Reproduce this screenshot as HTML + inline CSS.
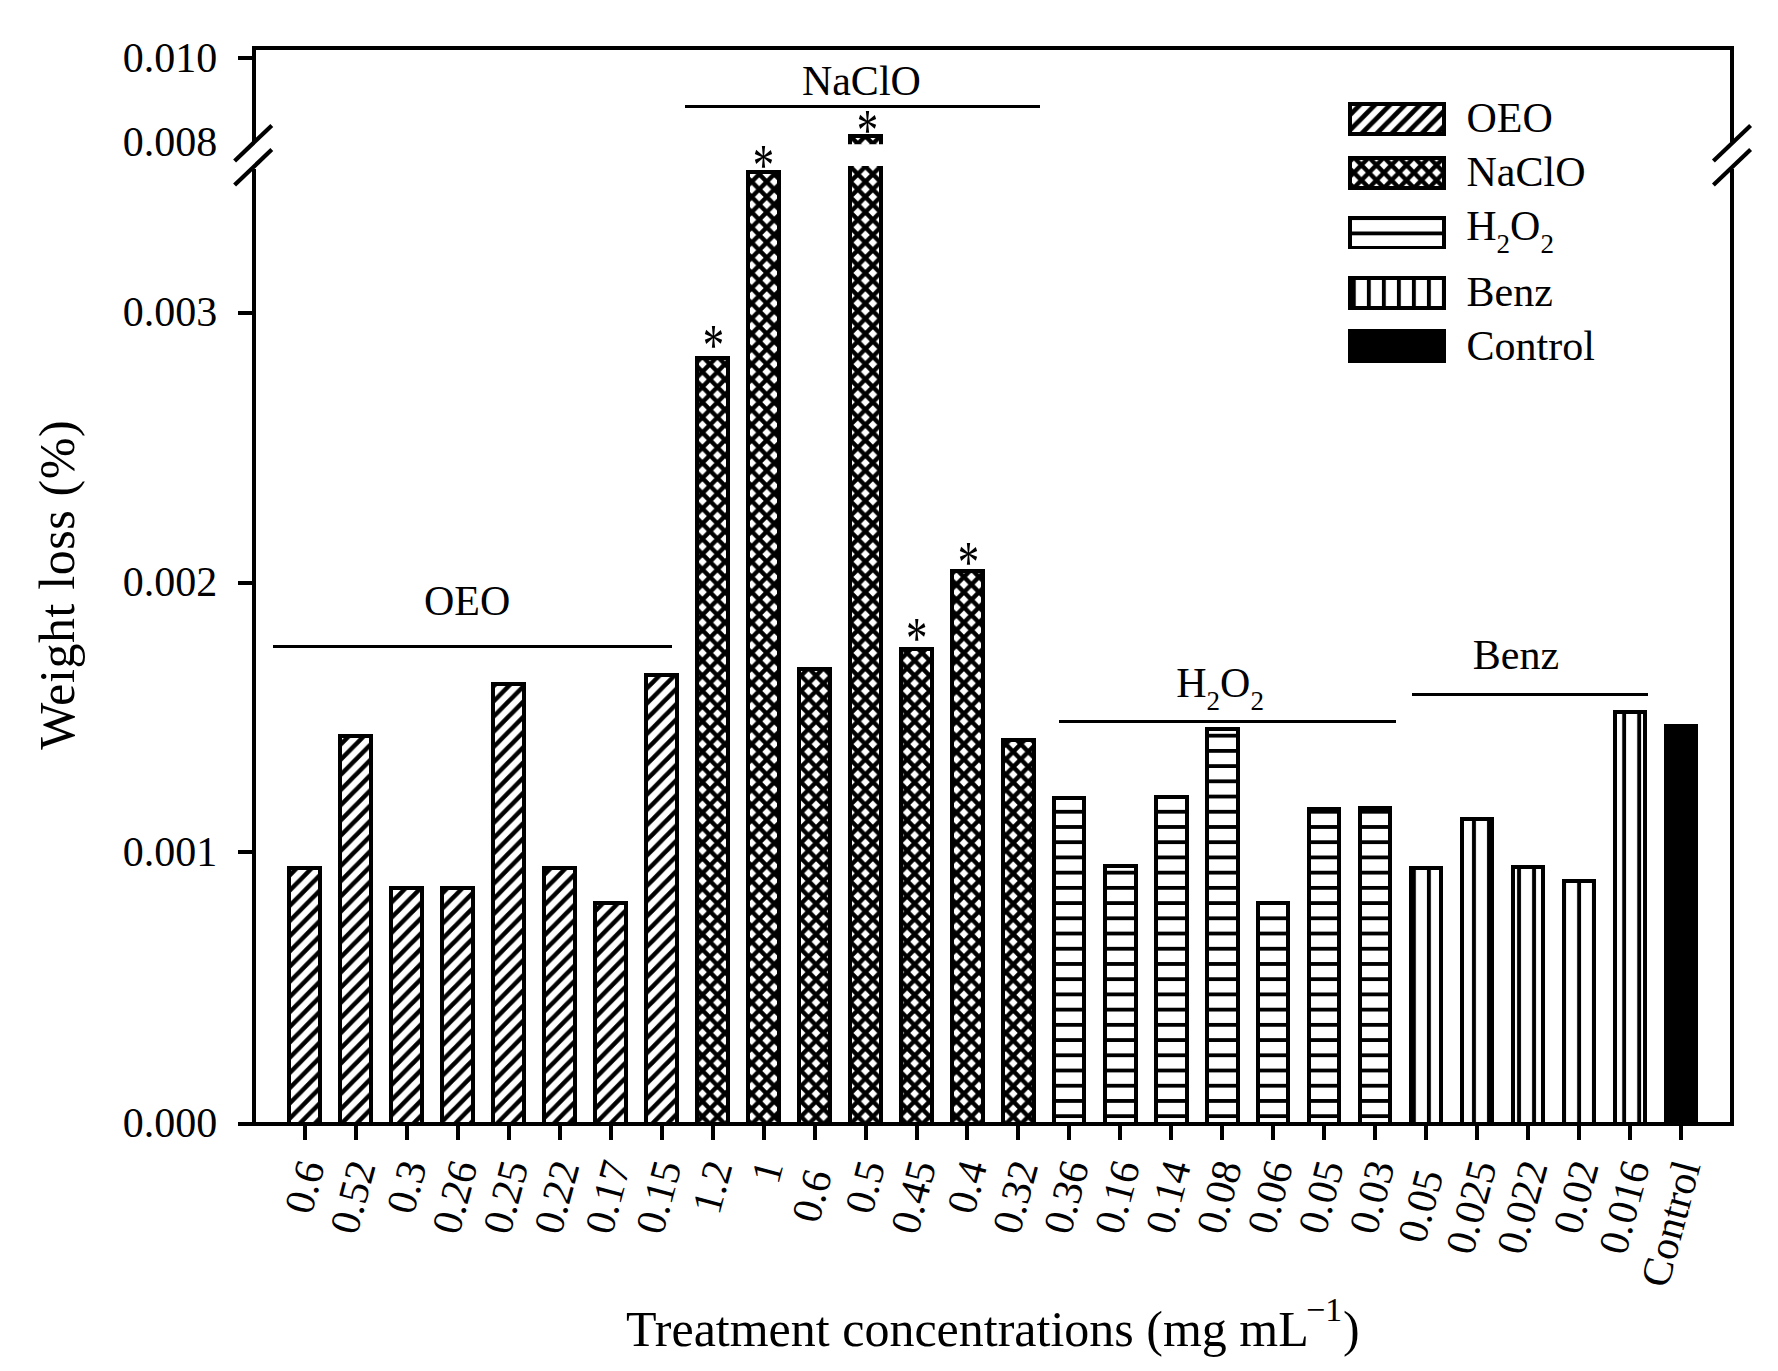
<!DOCTYPE html>
<html lang="en"><head><meta charset="utf-8"><title>Weight loss by treatment concentration</title>
<style>
html,body{margin:0;padding:0;background:#fff;}
body{width:1778px;height:1371px;overflow:hidden;}
svg{display:block;}
text{font-family:"Liberation Serif","Times New Roman",Times,serif;fill:#000;}
.t{font-size:42px;}
.ti{font-size:42px;}
.big{font-size:50px;}
.ax{stroke:#000;stroke-width:4.00;fill:none;}
.ln{stroke:#000;stroke-width:2.8;fill:none;}
.bar{stroke:#000;stroke-width:3.80;}
</style></head><body>
<svg width="1778" height="1371" viewBox="0 0 1778 1371">
<defs>
<pattern id="pd" width="15.020" height="15.200" patternUnits="userSpaceOnUse" patternTransform="translate(6.65,0.00)">
<rect width="15.020" height="15.200" fill="#fff"/>
<path d="M-30.040,30.400 L15.020,-15.200 M-15.020,30.400 L30.040,-15.200 M0.000,30.400 L45.060,-15.200" stroke="#000" stroke-width="4.80" fill="none"/>
</pattern>
<pattern id="px" width="15.020" height="15.200" patternUnits="userSpaceOnUse" patternTransform="translate(9.63,-2.14)">
<rect width="15.020" height="15.200" fill="#fff"/>
<path d="M-30.040,30.400 L15.020,-15.200 M-15.020,30.400 L30.040,-15.200 M0.000,30.400 L45.060,-15.200 M-30.040,-15.200 L15.020,30.400 M-15.020,-15.200 L30.040,30.400 M0.000,-15.200 L45.060,30.400" stroke="#000" stroke-width="4.40" fill="none"/>
</pattern>
<pattern id="pd0" width="15.020" height="15.200" patternUnits="userSpaceOnUse" patternTransform="translate(13.14,0.00)">
<rect width="15.020" height="15.200" fill="#fff"/>
<path d="M-30.040,30.400 L15.020,-15.200 M-15.020,30.400 L30.040,-15.200 M0.000,30.400 L45.060,-15.200" stroke="#000" stroke-width="4.50" fill="none"/>
</pattern>
<pattern id="pd1" width="15.020" height="15.200" patternUnits="userSpaceOnUse" patternTransform="translate(9.87,0.00)">
<rect width="15.020" height="15.200" fill="#fff"/>
<path d="M-30.040,30.400 L15.020,-15.200 M-15.020,30.400 L30.040,-15.200 M0.000,30.400 L45.060,-15.200" stroke="#000" stroke-width="4.50" fill="none"/>
</pattern>
<pattern id="pd2" width="15.020" height="15.200" patternUnits="userSpaceOnUse" patternTransform="translate(6.60,0.00)">
<rect width="15.020" height="15.200" fill="#fff"/>
<path d="M-30.040,30.400 L15.020,-15.200 M-15.020,30.400 L30.040,-15.200 M0.000,30.400 L45.060,-15.200" stroke="#000" stroke-width="4.50" fill="none"/>
</pattern>
<pattern id="pd3" width="15.020" height="15.200" patternUnits="userSpaceOnUse" patternTransform="translate(3.33,0.00)">
<rect width="15.020" height="15.200" fill="#fff"/>
<path d="M-30.040,30.400 L15.020,-15.200 M-15.020,30.400 L30.040,-15.200 M0.000,30.400 L45.060,-15.200" stroke="#000" stroke-width="4.50" fill="none"/>
</pattern>
<pattern id="pd4" width="15.020" height="15.200" patternUnits="userSpaceOnUse" patternTransform="translate(0.06,0.00)">
<rect width="15.020" height="15.200" fill="#fff"/>
<path d="M-30.040,30.400 L15.020,-15.200 M-15.020,30.400 L30.040,-15.200 M0.000,30.400 L45.060,-15.200" stroke="#000" stroke-width="4.50" fill="none"/>
</pattern>
<pattern id="pd5" width="15.020" height="15.200" patternUnits="userSpaceOnUse" patternTransform="translate(11.81,0.00)">
<rect width="15.020" height="15.200" fill="#fff"/>
<path d="M-30.040,30.400 L15.020,-15.200 M-15.020,30.400 L30.040,-15.200 M0.000,30.400 L45.060,-15.200" stroke="#000" stroke-width="4.50" fill="none"/>
</pattern>
<pattern id="pd6" width="15.020" height="15.200" patternUnits="userSpaceOnUse" patternTransform="translate(8.54,0.00)">
<rect width="15.020" height="15.200" fill="#fff"/>
<path d="M-30.040,30.400 L15.020,-15.200 M-15.020,30.400 L30.040,-15.200 M0.000,30.400 L45.060,-15.200" stroke="#000" stroke-width="4.50" fill="none"/>
</pattern>
<pattern id="pd7" width="15.020" height="15.200" patternUnits="userSpaceOnUse" patternTransform="translate(5.27,0.00)">
<rect width="15.020" height="15.200" fill="#fff"/>
<path d="M-30.040,30.400 L15.020,-15.200 M-15.020,30.400 L30.040,-15.200 M0.000,30.400 L45.060,-15.200" stroke="#000" stroke-width="4.50" fill="none"/>
</pattern>
<pattern id="px8" width="15.020" height="15.200" patternUnits="userSpaceOnUse" patternTransform="translate(4.00,-0.65)">
<rect width="15.020" height="15.200" fill="#fff"/>
<path d="M-30.040,30.400 L15.020,-15.200 M-15.020,30.400 L30.040,-15.200 M0.000,30.400 L45.060,-15.200 M-30.040,-15.200 L15.020,30.400 M-15.020,-15.200 L30.040,30.400 M0.000,-15.200 L45.060,30.400" stroke="#000" stroke-width="4.40" fill="none"/>
</pattern>
<pattern id="px9" width="15.020" height="15.200" patternUnits="userSpaceOnUse" patternTransform="translate(0.73,-0.65)">
<rect width="15.020" height="15.200" fill="#fff"/>
<path d="M-30.040,30.400 L15.020,-15.200 M-15.020,30.400 L30.040,-15.200 M0.000,30.400 L45.060,-15.200 M-30.040,-15.200 L15.020,30.400 M-15.020,-15.200 L30.040,30.400 M0.000,-15.200 L45.060,30.400" stroke="#000" stroke-width="4.40" fill="none"/>
</pattern>
<pattern id="px10" width="15.020" height="15.200" patternUnits="userSpaceOnUse" patternTransform="translate(12.48,-0.65)">
<rect width="15.020" height="15.200" fill="#fff"/>
<path d="M-30.040,30.400 L15.020,-15.200 M-15.020,30.400 L30.040,-15.200 M0.000,30.400 L45.060,-15.200 M-30.040,-15.200 L15.020,30.400 M-15.020,-15.200 L30.040,30.400 M0.000,-15.200 L45.060,30.400" stroke="#000" stroke-width="4.40" fill="none"/>
</pattern>
<pattern id="px11" width="15.020" height="15.200" patternUnits="userSpaceOnUse" patternTransform="translate(9.21,-0.65)">
<rect width="15.020" height="15.200" fill="#fff"/>
<path d="M-30.040,30.400 L15.020,-15.200 M-15.020,30.400 L30.040,-15.200 M0.000,30.400 L45.060,-15.200 M-30.040,-15.200 L15.020,30.400 M-15.020,-15.200 L30.040,30.400 M0.000,-15.200 L45.060,30.400" stroke="#000" stroke-width="4.40" fill="none"/>
</pattern>
<pattern id="px12" width="15.020" height="15.200" patternUnits="userSpaceOnUse" patternTransform="translate(5.94,-0.65)">
<rect width="15.020" height="15.200" fill="#fff"/>
<path d="M-30.040,30.400 L15.020,-15.200 M-15.020,30.400 L30.040,-15.200 M0.000,30.400 L45.060,-15.200 M-30.040,-15.200 L15.020,30.400 M-15.020,-15.200 L30.040,30.400 M0.000,-15.200 L45.060,30.400" stroke="#000" stroke-width="4.40" fill="none"/>
</pattern>
<pattern id="px13" width="15.020" height="15.200" patternUnits="userSpaceOnUse" patternTransform="translate(2.67,-0.65)">
<rect width="15.020" height="15.200" fill="#fff"/>
<path d="M-30.040,30.400 L15.020,-15.200 M-15.020,30.400 L30.040,-15.200 M0.000,30.400 L45.060,-15.200 M-30.040,-15.200 L15.020,30.400 M-15.020,-15.200 L30.040,30.400 M0.000,-15.200 L45.060,30.400" stroke="#000" stroke-width="4.40" fill="none"/>
</pattern>
<pattern id="px14" width="15.020" height="15.200" patternUnits="userSpaceOnUse" patternTransform="translate(14.42,-0.65)">
<rect width="15.020" height="15.200" fill="#fff"/>
<path d="M-30.040,30.400 L15.020,-15.200 M-15.020,30.400 L30.040,-15.200 M0.000,30.400 L45.060,-15.200 M-30.040,-15.200 L15.020,30.400 M-15.020,-15.200 L30.040,30.400 M0.000,-15.200 L45.060,30.400" stroke="#000" stroke-width="4.40" fill="none"/>
</pattern>
<pattern id="ph" width="15.020" height="15.220" patternUnits="userSpaceOnUse" patternTransform="translate(0,225.79)">
<rect width="15.020" height="15.220" fill="#fff"/>
<rect x="0" y="5.710" width="15.020" height="3.8" fill="#000"/>
</pattern>
<pattern id="pv" width="15.020" height="15.200" patternUnits="userSpaceOnUse" patternTransform="translate(1421.39,0)">
<rect width="15.020" height="15.200" fill="#fff"/>
<rect x="5.560" y="0" width="3.9" height="15.200" fill="#000"/>
</pattern>
<clipPath id="brk"><rect x="0" y="0" width="1778" height="144.2"/><rect x="0" y="166" width="1778" height="1300"/></clipPath>
</defs>
<rect width="1778" height="1371" fill="#fff"/>
<g shape-rendering="crispEdges">
<rect class="bar" x="289.00" y="868.00" width="31.20" height="256.00" fill="url(#pd0)"/>
<rect class="bar" x="340.00" y="735.94" width="31.20" height="388.06" fill="url(#pd1)"/>
<rect class="bar" x="391.00" y="887.80" width="31.20" height="236.20" fill="url(#pd2)"/>
<rect class="bar" x="442.00" y="887.80" width="31.20" height="236.20" fill="url(#pd3)"/>
<rect class="bar" x="493.00" y="684.20" width="31.20" height="439.80" fill="url(#pd4)"/>
<rect class="bar" x="544.00" y="867.96" width="31.20" height="256.04" fill="url(#pd5)"/>
<rect class="bar" x="595.00" y="903.00" width="31.20" height="221.00" fill="url(#pd6)"/>
<rect class="bar" x="646.00" y="674.90" width="31.20" height="449.10" fill="url(#pd7)"/>
<rect class="bar" x="697.00" y="358.00" width="31.20" height="766.00" fill="url(#px8)"/>
<rect class="bar" x="748.00" y="171.90" width="31.20" height="952.10" fill="url(#px9)"/>
<rect class="bar" x="799.00" y="668.70" width="31.20" height="455.30" fill="url(#px10)"/>
<g clip-path="url(#brk)"><rect class="bar" x="850.00" y="135.80" width="31.20" height="988.20" fill="url(#px11)"/></g>
<rect class="bar" x="901.00" y="648.80" width="31.20" height="475.20" fill="url(#px12)"/>
<rect class="bar" x="952.00" y="570.70" width="31.00" height="553.30" fill="url(#px13)"/>
<rect class="bar" x="1003.00" y="740.00" width="31.20" height="384.00" fill="url(#px14)"/>
<rect class="bar" x="1054.00" y="798.00" width="30.10" height="326.00" fill="url(#ph)"/>
<rect class="bar" x="1105.00" y="865.90" width="31.10" height="258.10" fill="url(#ph)"/>
<rect class="bar" x="1156.00" y="796.90" width="31.30" height="327.10" fill="url(#ph)"/>
<rect class="bar" x="1207.00" y="729.10" width="31.00" height="394.90" fill="url(#ph)"/>
<rect class="bar" x="1258.00" y="903.00" width="30.10" height="221.00" fill="url(#ph)"/>
<rect class="bar" x="1309.00" y="809.00" width="30.10" height="315.00" fill="url(#ph)"/>
<rect class="bar" x="1360.00" y="808.00" width="30.10" height="316.00" fill="url(#ph)"/>
<rect class="bar" x="1411.00" y="868.00" width="30.10" height="256.00" fill="url(#pv)"/>
<rect class="bar" x="1462.00" y="818.80" width="30.10" height="305.20" fill="url(#pv)"/>
<rect class="bar" x="1513.00" y="867.10" width="30.10" height="256.90" fill="url(#pv)"/>
<rect class="bar" x="1564.00" y="881.00" width="30.10" height="243.00" fill="url(#pv)"/>
<rect class="bar" x="1615.00" y="711.80" width="30.10" height="412.20" fill="url(#pv)"/>
<rect class="bar" x="1666.00" y="725.90" width="30.10" height="398.10" fill="#000"/>
</g>
<g shape-rendering="crispEdges">
<path class="ax" d="M254.00,46.00 V141.60 M254.00,168.50 V1124.00"/>
<path class="ax" d="M1732.00,46.00 V141.60 M1732.00,168.50 V1124.00"/>
<path class="ax" d="M254.00,48.00 H1732.00"/>
<path class="ax" d="M238.20,1124.00 H1734.00"/>
<path class="ax" d="M238.2,58.00 H254.00"/>
<path class="ax" d="M238.2,312.60 H254.00"/>
<path class="ax" d="M238.2,582.50 H254.00"/>
<path class="ax" d="M238.2,852.30 H254.00"/>
<path class="ax" d="M305.00,1124.00 V1139.90"/>
<path class="ax" d="M355.96,1124.00 V1139.90"/>
<path class="ax" d="M406.92,1124.00 V1139.90"/>
<path class="ax" d="M457.88,1124.00 V1139.90"/>
<path class="ax" d="M508.84,1124.00 V1139.90"/>
<path class="ax" d="M559.80,1124.00 V1139.90"/>
<path class="ax" d="M610.76,1124.00 V1139.90"/>
<path class="ax" d="M661.72,1124.00 V1139.90"/>
<path class="ax" d="M712.68,1124.00 V1139.90"/>
<path class="ax" d="M763.64,1124.00 V1139.90"/>
<path class="ax" d="M814.60,1124.00 V1139.90"/>
<path class="ax" d="M865.56,1124.00 V1139.90"/>
<path class="ax" d="M916.52,1124.00 V1139.90"/>
<path class="ax" d="M967.48,1124.00 V1139.90"/>
<path class="ax" d="M1018.44,1124.00 V1139.90"/>
<path class="ax" d="M1069.40,1124.00 V1139.90"/>
<path class="ax" d="M1120.36,1124.00 V1139.90"/>
<path class="ax" d="M1171.32,1124.00 V1139.90"/>
<path class="ax" d="M1222.28,1124.00 V1139.90"/>
<path class="ax" d="M1273.24,1124.00 V1139.90"/>
<path class="ax" d="M1324.20,1124.00 V1139.90"/>
<path class="ax" d="M1375.16,1124.00 V1139.90"/>
<path class="ax" d="M1426.12,1124.00 V1139.90"/>
<path class="ax" d="M1477.08,1124.00 V1139.90"/>
<path class="ax" d="M1528.04,1124.00 V1139.90"/>
<path class="ax" d="M1579.00,1124.00 V1139.90"/>
<path class="ax" d="M1629.96,1124.00 V1139.90"/>
<path class="ax" d="M1680.92,1124.00 V1139.90"/>
</g>
<path class="ax" style="stroke-width:4.2" d="M234.60,161.00 L271.80,125.40"/>
<path class="ax" style="stroke-width:4.2" d="M234.60,185.00 L271.80,149.50"/>
<path class="ax" style="stroke-width:4.2" d="M1713.40,161.00 L1750.60,125.40"/>
<path class="ax" style="stroke-width:4.2" d="M1713.40,185.00 L1750.60,149.50"/>
<g shape-rendering="crispEdges">
<path class="ln" d="M273.10,646.40 H672.00"/>
<path class="ln" d="M684.70,106.40 H1040.20"/>
<path class="ln" d="M1059.20,721.20 H1395.80"/>
<path class="ln" d="M1412.00,694.50 H1647.90"/>
</g>
<text class="t" x="217.3" y="71.7" text-anchor="end">0.010</text>
<text class="t" x="217.3" y="156.4" text-anchor="end">0.008</text>
<text class="t" x="217.3" y="326.2" text-anchor="end">0.003</text>
<text class="t" x="217.3" y="595.8" text-anchor="end">0.002</text>
<text class="t" x="217.3" y="865.6" text-anchor="end">0.001</text>
<text class="t" x="217.3" y="1137.2" text-anchor="end">0.000</text>
<text class="t" x="467.2" y="615.4" text-anchor="middle">OEO</text>
<text class="t" x="861.4" y="95.1" text-anchor="middle">NaClO</text>
<text class="t" x="1176.2" y="696.9">H<tspan dy="13.2" font-size="27">2</tspan><tspan dy="-13.2">O</tspan><tspan dy="13.2" font-size="27">2</tspan></text>
<text class="t" x="1516" y="669.1" text-anchor="middle">Benz</text>
<text text-anchor="middle" transform="translate(713.5,364.71) scale(0.824,1.130)" style="font-size:52px">*</text>
<text text-anchor="middle" transform="translate(763.5,184.51) scale(0.824,1.130)" style="font-size:52px">*</text>
<text text-anchor="middle" transform="translate(867.5,149.71) scale(0.824,1.130)" style="font-size:52px">*</text>
<text text-anchor="middle" transform="translate(916.6,657.72) scale(0.824,1.130)" style="font-size:52px">*</text>
<text text-anchor="middle" transform="translate(968.5,581.72) scale(0.824,1.130)" style="font-size:52px">*</text>
<g shape-rendering="crispEdges">
<rect class="bar" x="1349.90" y="103.90" width="94.20" height="30.20" fill="url(#pd)"/>
<rect class="bar" x="1349.90" y="157.90" width="94.20" height="29.80" fill="url(#px)"/>
<rect class="bar" x="1349.90" y="218.30" width="94.20" height="29.20" fill="url(#ph)"/>
<rect class="bar" x="1349.90" y="277.90" width="94.20" height="30.00" fill="url(#pv)"/>
<rect class="bar" x="1349.90" y="331.30" width="94.20" height="30.30" fill="#000"/>
</g>
<text class="t" x="1466.5" y="132.4">OEO</text>
<text class="t" x="1466.5" y="186.2">NaClO</text>
<text class="t" x="1466.2" y="240.1">H<tspan dy="12.9" font-size="27">2</tspan><tspan dy="-12.9">O</tspan><tspan dy="12.9" font-size="27">2</tspan></text>
<text class="t" x="1466.5" y="305.7">Benz</text>
<text class="t" x="1466.5" y="359.6">Control</text>
<text class="ti" text-anchor="end" transform="translate(324.90,1165.20) rotate(-75)">0.6</text>
<text class="ti" text-anchor="end" transform="translate(375.86,1165.20) rotate(-75)">0.52</text>
<text class="ti" text-anchor="end" transform="translate(426.82,1165.20) rotate(-75)">0.3</text>
<text class="ti" text-anchor="end" transform="translate(477.78,1165.20) rotate(-75)">0.26</text>
<text class="ti" text-anchor="end" transform="translate(528.74,1165.20) rotate(-75)">0.25</text>
<text class="ti" text-anchor="end" transform="translate(579.70,1165.20) rotate(-75)">0.22</text>
<text class="ti" text-anchor="end" transform="translate(630.66,1165.20) rotate(-75)">0.17</text>
<text class="ti" text-anchor="end" transform="translate(681.62,1165.20) rotate(-75)">0.15</text>
<text class="ti" text-anchor="end" transform="translate(732.58,1165.20) rotate(-75)">1.2</text>
<text class="ti" text-anchor="end" transform="translate(783.54,1165.20) rotate(-75)">1</text>
<text class="ti" text-anchor="end" transform="translate(832.10,1174.10) rotate(-75)">0.6</text>
<text class="ti" text-anchor="end" transform="translate(885.46,1165.20) rotate(-75)">0.5</text>
<text class="ti" text-anchor="end" transform="translate(936.42,1165.20) rotate(-75)">0.45</text>
<text class="ti" text-anchor="end" transform="translate(987.38,1165.20) rotate(-75)">0.4</text>
<text class="ti" text-anchor="end" transform="translate(1038.34,1165.20) rotate(-75)">0.32</text>
<text class="ti" text-anchor="end" transform="translate(1089.30,1165.20) rotate(-75)">0.36</text>
<text class="ti" text-anchor="end" transform="translate(1140.26,1165.20) rotate(-75)">0.16</text>
<text class="ti" text-anchor="end" transform="translate(1191.22,1165.20) rotate(-75)">0.14</text>
<text class="ti" text-anchor="end" transform="translate(1242.18,1165.20) rotate(-75)">0.08</text>
<text class="ti" text-anchor="end" transform="translate(1293.14,1165.20) rotate(-75)">0.06</text>
<text class="ti" text-anchor="end" transform="translate(1344.10,1165.20) rotate(-75)">0.05</text>
<text class="ti" text-anchor="end" transform="translate(1395.06,1165.20) rotate(-75)">0.03</text>
<text class="ti" text-anchor="end" transform="translate(1443.62,1174.10) rotate(-75)">0.05</text>
<text class="ti" text-anchor="end" transform="translate(1496.98,1165.20) rotate(-75)">0.025</text>
<text class="ti" text-anchor="end" transform="translate(1547.94,1165.20) rotate(-75)">0.022</text>
<text class="ti" text-anchor="end" transform="translate(1598.90,1165.20) rotate(-75)">0.02</text>
<text class="ti" text-anchor="end" transform="translate(1649.86,1165.20) rotate(-75)">0.016</text>
<text class="ti" text-anchor="end" transform="translate(1700.82,1165.20) rotate(-75)">Control</text>
<text class="big" x="626" y="1346">Treatment concentrations (mg mL</text>
<text x="1306" y="1321.2" style="font-size:34px">−1</text>
<text class="big" x="1343" y="1346">)</text>
<text class="big" text-anchor="middle" style="letter-spacing:0.6px" transform="translate(73.9,584.7) rotate(-90)">Weight loss (%)</text>
</svg>
</body></html>
